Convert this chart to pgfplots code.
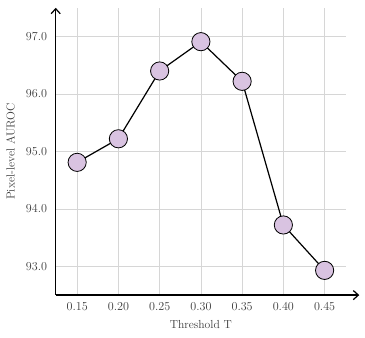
\documentclass[border=0pt]{standalone}
\usepackage{pgfplots}
\pgfplotsset{compat=1.18}
\usetikzlibrary{arrows.meta}
\definecolor{mkfill}{HTML}{D9C3E1}
\definecolor{gridc}{HTML}{D6D6D6}
\definecolor{txt}{HTML}{3C3C3C}
\begin{document}
\begin{tikzpicture}[font=\fontsize{11.5}{13}\selectfont]
\begin{axis}[
  scale only axis,
  width=286bp, height=283bp,
  axis lines=left,
  axis line style={line width=1.2pt},
  x axis line style={-{Straight Barb[length=5pt,width=9pt,line width=1.2pt]}, shorten >=-13bp},
  y axis line style={-{Straight Barb[length=5pt,width=9pt,line width=1.2pt]}},
  xmin=0.124, xmax=0.476,
  ymin=92.5, ymax=97.5,
  xtick={0.15,0.20,...,0.45},
  ytick={93,94,95,96,97},
  xticklabel style={yshift=-4pt, /pgf/number format/.cd, fixed, fixed zerofill, precision=2},
  yticklabel style={xshift=-5pt, /pgf/number format/.cd, fixed, fixed zerofill, precision=1},
  ticklabel style={text=txt},
  major tick length=0pt,
  grid=major,
  major grid style={gridc, line width=0.7pt},
  xlabel={Threshold T},
  ylabel={Pixel-level AUROC},
  label style={text=txt},
  xlabel style={yshift=-3pt},
  ylabel style={yshift=4pt},
  clip=false,
]
\addplot[black, line width=1.2pt, mark=*, mark size=9pt,
  mark options={fill=mkfill, draw=black, line width=0.8pt}]
  coordinates {(0.15,94.81) (0.20,95.22) (0.25,96.40) (0.30,96.91) (0.35,96.22) (0.40,93.72) (0.45,92.93)};
\end{axis}
% small white margin, as in the reference
\path (current bounding box.north east) ++(5bp,7bp);
\path (current bounding box.south west) ++(-3bp,-5bp);
\end{tikzpicture}
\end{document}
